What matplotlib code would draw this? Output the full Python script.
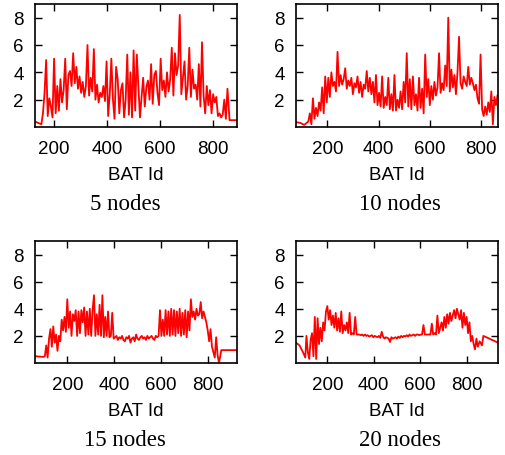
import numpy as np
import matplotlib
matplotlib.use("Agg")
import matplotlib.pyplot as plt

plt.rcParams['font.family'] = ['Liberation Sans', 'DejaVu Sans']

titles = ["5 nodes", "10 nodes", "15 nodes", "20 nodes"]
xlabel = "BAT Id"
yticks = [2, 4, 6, 8]
xticks = [200, 400, 600, 800]
xlims = [(128, 890), (78, 866), (62, 925), (65, 935)]

# ---- 5 nodes ----
head5_x = [128, 140, 152]
head5_y = [0.4, 0.3, 0.2]
dense5_start, dense5_step = 158, 6
dense5_y = [1.0, 2.5, 4.9, 0.8, 2.1, 1.5, 0.7, 5.0, 1.0, 3.0, 1.2, 3.5, 1.8, 2.7, 5.0, 1.3,
            3.8, 4.1, 3.0, 5.4, 3.2, 4.4, 2.8, 3.7,
            2.5, 3.3, 2.2, 3.0, 6.0, 2.3, 3.6, 2.6, 5.7, 2.0, 3.1, 1.8, 2.5, 2.2, 3.0, 1.9, 4.8,
            0.8, 2.4, 5.0, 2.0, 0.6, 4.4, 3.5, 1.0, 2.7, 3.2, 0.7, 2.0, 5.3, 0.9, 4.0, 0.7, 5.6,
            1.2, 5.3, 3.0, 0.7, 2.2, 3.6, 1.5, 2.9, 3.4, 2.0, 4.6, 1.7, 3.8, 4.1, 2.5, 1.6, 5.0,
            2.7, 3.4, 2.2, 4.0, 2.6, 3.5, 5.8, 2.3, 5.4, 3.8, 4.5, 8.2, 2.4, 3.6, 4.8, 2.0, 3.0,
            5.8, 2.2, 4.2, 2.8, 3.1, 2.0, 4.6, 1.5, 6.2, 2.3, 1.0, 3.0, 1.6, 2.7, 1.0, 2.4, 1.8,
            2.2, 0.8, 1.0, 0.7, 0.9, 2.0, 0.6, 2.8]
tail5_x = [862, 890]
tail5_y = [0.5, 0.5]

# ---- 10 nodes ----
head10_x = [78, 95, 110, 120]
head10_y = [0.35, 0.3, 0.15, 0.3]
dense10_start, dense10_step = 126, 6
dense10_y = [0.4, 1.0, 0.2, 2.1, 0.6, 1.4, 0.8, 1.8, 1.2, 2.9, 1.0, 3.7, 1.8,
             3.6, 2.2, 4.0, 3.0, 3.3, 2.6, 5.5, 3.0,
             3.8, 3.1, 3.5, 4.3, 2.8, 3.4, 3.0, 3.6, 2.4, 3.2, 2.9, 3.7, 2.5, 3.3, 2.2, 3.1, 2.8,
             4.1, 2.6, 3.6, 2.4, 3.3, 1.8, 3.8, 1.6, 2.5,
             1.5, 3.7, 1.4, 2.2, 1.6, 3.6, 1.3, 2.4, 1.2, 3.8, 1.2, 2.0, 1.4, 2.6, 1.3, 3.3, 1.8,
             5.4, 1.5, 3.5, 1.3, 3.7, 1.6, 2.4, 1.2, 3.6, 1.4, 2.8, 1.0, 5.3, 2.2, 3.5, 1.6,
             3.0, 2.0, 3.3, 2.3, 2.9, 5.4, 2.5, 3.2, 2.7, 4.5, 3.0, 8.0, 2.6, 4.2, 2.9, 3.8, 2.4,
             4.0, 6.6, 3.2, 2.8, 3.7, 3.3, 3.0, 4.4, 3.1, 3.6, 3.2, 2.7, 3.1, 2.1, 1.7, 5.3,
             1.3, 0.8, 1.5, 0.9, 1.8, 1.1, 2.6, 0.2, 2.2, 1.6, 2.3]
tail10_x = []
tail10_y = []

# ---- 15 nodes ----
head15_x = [62, 98]
head15_y = [0.5, 0.45]
dense15_start, dense15_step = 104, 6
dense15_y = [0.5, 1.3, 0.4, 1.8, 2.5, 1.2, 2.7, 1.5, 2.1, 0.9, 2.0, 1.6, 3.2, 2.4, 3.4, 2.3, 4.7,
             2.6, 3.8, 2.0, 3.6, 3.1, 3.9, 2.0, 3.8, 2.2, 3.9, 3.0, 4.1, 2.0, 3.8, 2.1, 4.0, 2.0, 3.9,
             5.0, 2.0, 3.6, 2.1, 4.3, 2.0, 5.0, 1.9, 3.4, 2.0,
             3.8, 1.9, 2.0, 3.7, 1.8, 1.9, 2.0, 1.7, 1.9, 1.8, 2.0, 1.7, 1.6, 1.9, 1.8, 2.0, 1.5,
             1.8, 1.9, 1.6, 2.1, 1.8, 1.7, 1.9, 2.0, 1.8, 1.9, 1.7, 2.0, 1.8, 1.9, 2.0, 1.8, 1.7,
             2.0, 1.9, 2.0,
             3.9, 2.0, 3.2, 2.0, 3.9, 2.1, 3.8, 2.0, 4.0, 2.1, 3.9, 2.0, 3.8, 2.2, 4.0, 2.0, 3.7,
             2.1, 3.9, 1.9, 3.8, 2.4,
             4.7, 3.4, 3.8, 3.2, 4.0, 3.5, 3.6, 4.5, 3.3, 3.8, 3.4,
             3.0, 2.4, 1.6, 2.5, 1.2, 0.8, 0.4, 1.9, 0.6, 0.0]
tail15_x = [858, 925]
tail15_y = [0.95, 0.95]

# ---- 20 nodes ----
head20_x = [65, 80, 95, 105]
head20_y = [1.5, 1.3, 0.8, 0.4]
dense20_start, dense20_step = 110, 6
dense20_y = [2.0, 0.8, 0.3, 1.7, 2.2, 0.5, 3.4, 0.3, 3.3, 1.4, 2.6, 1.6, 3.0, 2.4, 3.8, 4.2,
             3.2, 3.9, 2.8, 3.5, 2.6, 3.7, 2.4, 3.3, 2.3, 3.8, 2.2, 2.8, 2.4, 3.0, 2.2, 3.7, 2.1,
             2.2, 2.1, 3.4,
             2.1, 2.1, 2.1, 2.05, 2.1, 2.0, 2.1, 2.0, 2.05, 1.95, 2.0, 2.05, 1.9, 2.0, 1.95, 1.9,
             2.0, 1.85, 2.3, 1.95, 1.8, 1.9, 1.85, 1.8, 1.55, 1.9, 1.8, 1.85, 1.9, 1.8, 1.95, 1.85,
             2.0, 1.9, 2.0, 1.95, 2.05, 1.95, 2.1, 2.0, 2.05, 2.1, 2.0, 2.1, 2.1, 2.05, 2.1, 2.1,
             2.8, 2.1, 2.1, 2.1, 2.1, 2.1, 2.9, 2.1, 2.2, 2.1, 3.5, 2.2, 2.6, 3.0, 2.4,
             3.4, 2.6, 3.6, 2.9, 3.7, 3.1, 3.5, 3.9, 3.3, 4.0, 3.6, 3.2, 3.9, 2.6, 3.7, 2.8, 3.4,
             2.2, 3.0, 1.6, 2.0, 1.4, 1.0, 1.8, 1.2]
tail20_x = [856, 866, 872, 935]
tail20_y = [1.6, 1.3, 2.0, 1.5]

series = [
    (head5_x, head5_y, dense5_start, dense5_step, dense5_y, tail5_x, tail5_y),
    (head10_x, head10_y, dense10_start, dense10_step, dense10_y, tail10_x, tail10_y),
    (head15_x, head15_y, dense15_start, dense15_step, dense15_y, tail15_x, tail15_y),
    (head20_x, head20_y, dense20_start, dense20_step, dense20_y, tail20_x, tail20_y),
]

W, H = 505, 456
fig = plt.figure(figsize=(W / 100, H / 100), dpi=100)

# axes boxes in pixels: left, top, right, bottom
boxes = [(35, 5, 237, 128), (296, 5, 498, 128), (35, 242, 237, 364), (296, 242, 498, 364)]
title_x = [125, 400, 125, 400]

for i, (hx, hy, ds, dstep, dy, tx, ty) in enumerate(series):
    l, t, r, b = boxes[i]
    ax = fig.add_axes([l / W, 1 - b / H, (r - l) / W, (b - t) / H])
    dx = [ds + dstep * k for k in range(len(dy))]
    x = list(hx) + dx + list(tx)
    y = list(hy) + list(dy) + list(ty)
    ax.plot(x, y, color='#ff0000', lw=1.3)
    ax.set_xlim(*xlims[i])
    ax.set_ylim(0, 9)
    ax.set_xticks(xticks)
    ax.set_yticks(yticks)
    ax.tick_params(direction='in', top=True, right=True, length=5, width=1,
                   labelsize=13.5)
    ax.tick_params(axis='x', pad=9)
    ax.tick_params(axis='y', pad=8)
    for s in ax.spines.values():
        s.set_linewidth(1.2)
    ax.set_xlabel(xlabel, fontsize=13.5, labelpad=7)
    fig.text(title_x[i] / W, 1 - (b + 77) / H, titles[i], ha='center', va='center',
             fontsize=16.5, family=['Liberation Serif', 'DejaVu Serif'])

fig.savefig("out.png", dpi=100)
